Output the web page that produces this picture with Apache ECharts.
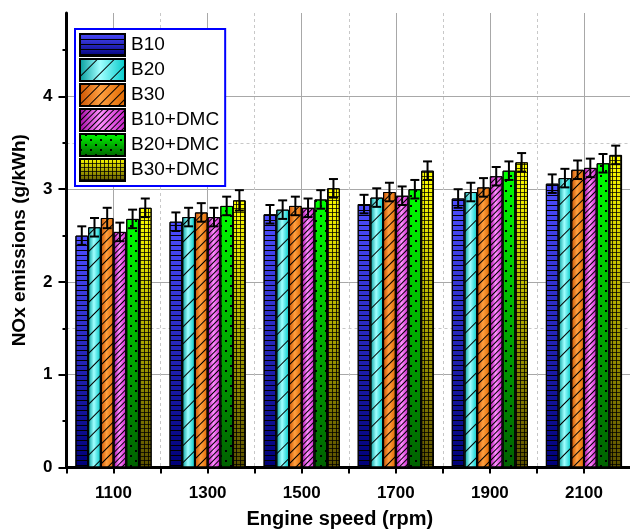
<!DOCTYPE html>
<html>
<head>
<meta charset="utf-8">
<script src="https://cdn.jsdelivr.net/npm/echarts@6/dist/echarts.min.js"></script>
<style>
  html, body { margin: 0; padding: 0; background: #fff; }
  #chart { width: 630px; height: 530px; }
</style>
</head>
<body>
<div id="chart"></div>
<script>
// engine speeds (rpm)
const speeds = [1100, 1300, 1500, 1700, 1900, 2100];
const xTickLabels = ["1100", "1300", "1500", "1700", "1900", "2100"];
const yTickValues = [0, 1, 2, 3, 4];

// NOx emissions (g/kWh)
const b10 = [2.50, 2.65, 2.73, 2.84, 2.90, 3.06];
const b20 = [2.59, 2.70, 2.78, 2.91, 2.97, 3.12];
const b30 = [2.69, 2.75, 2.82, 2.97, 3.02, 3.21];
const b10dmc = [2.54, 2.70, 2.80, 2.93, 3.14, 3.23];
const b20dmc = [2.68, 2.82, 2.89, 3.00, 3.20, 3.28];
const b30dmc = [2.80, 2.88, 3.01, 3.20, 3.29, 3.37];

// error bars (+/-)
const errB10 = [0.10, 0.10, 0.10, 0.10, 0.10, 0.10];
const errB20 = [0.10, 0.10, 0.10, 0.10, 0.10, 0.10];
const errB30 = [0.11, 0.10, 0.10, 0.10, 0.10, 0.10];
const errB10dmc = [0.10, 0.10, 0.10, 0.10, 0.10, 0.10];
const errB20dmc = [0.10, 0.10, 0.10, 0.10, 0.10, 0.10];
const errB30dmc = [0.10, 0.11, 0.10, 0.10, 0.10, 0.10];

const names = ["B10", "B20", "B30", "B10+DMC", "B20+DMC", "B30+DMC"];
const values = [b10, b20, b30, b10dmc, b20dmc, b30dmc];
const errors = [errB10, errB20, errB30, errB10dmc, errB20dmc, errB30dmc];

const BAR_W = 12.7;
const FONT = "Liberation Sans, Arial, sans-serif";

function vgrad(top, bottom) {
  return { type: "linear", x: 0, y: 0, x2: 0, y2: 1,
    colorStops: [{ offset: 0, color: top }, { offset: 1, color: bottom }] };
}
function hgrad(left, mid, right) {
  return { type: "linear", x: 0, y: 0, x2: 1, y2: 0,
    colorStops: [{ offset: 0, color: left }, { offset: 0.45, color: mid }, { offset: 1, color: right }] };
}

const fills = [
  vgrad("#4d4dff", "#000078"),
  hgrad("#009a9a", "#a0ffff", "#00c8c8"),
  hgrad("#c85000", "#ffa040", "#e06800"),
  hgrad("#a000a0", "#ff90ff", "#c820c8"),
  vgrad("#00ff00", "#006000"),
  vgrad("#ffff00", "#5a5000")
];

const decals = [
  // horizontal lines
  { symbol: "rect", symbolSize: 1, color: "#000", dashArrayX: [[10, 0]], dashArrayY: [1, 4] },
  // sparse diagonal
  { symbol: "rect", symbolSize: 1, color: "#000", dashArrayX: [[10, 0]], dashArrayY: [1, 11], rotation: -Math.PI / 4 },
  // diagonal
  { symbol: "rect", symbolSize: 1, color: "#000", dashArrayX: [[10, 0]], dashArrayY: [1, 6], rotation: -Math.PI / 4 },
  // dense diagonal
  { symbol: "rect", symbolSize: 1, color: "#000", dashArrayX: [[10, 0]], dashArrayY: [1, 3], rotation: -Math.PI / 4 },
  // dots
  { symbol: "rect", symbolSize: 1, color: "#000", dashArrayX: [[2, 8], [0, 5, 2, 3]], dashArrayY: [2, 3] },
  // grid
  { symbol: "path://M0 0H5V1H1V5H0Z", symbolSize: 1, symbolKeepAspect: false, color: "#000", dashArrayX: [[4, 0]], dashArrayY: [4, 0] }
];

const barSeries = names.map(function (name, i) {
  return {
    name: name,
    type: "bar",
    xAxisIndex: 0,
    yAxisIndex: 0,
    barWidth: BAR_W,
    barGap: "0%",
    data: speeds.map(function (s, k) { return [s, values[i][k]]; }),
    itemStyle: {
      color: fills[i],
      borderColor: "#000",
      borderWidth: 1,
      decal: decals[i]
    },
    emphasis: { disabled: true },
    z: 2
  };
});

const errData = [];
names.forEach(function (n, i) {
  speeds.forEach(function (s, k) {
    errData.push([s, values[i][k], errors[i][k], i]);
  });
});

const errSeries = {
  type: "custom",
  name: "err",
  xAxisIndex: 0,
  yAxisIndex: 0,
  data: errData,
  z: 5,
  silent: true,
  renderItem: function (params, api) {
    const x = api.value(0), v = api.value(1), e = api.value(2), idx = api.value(3);
    const hi = api.coord([x, v + e]);
    const lo = api.coord([x, v - e]);
    const cx = hi[0] + (idx - 2.5) * BAR_W;
    const hw = 4.5;
    const st = { stroke: "#000", lineWidth: 2 };
    return {
      type: "group",
      children: [
        { type: "line", shape: { x1: cx, y1: hi[1], x2: cx, y2: lo[1] }, style: st },
        { type: "line", shape: { x1: cx - hw, y1: hi[1], x2: cx + hw, y2: hi[1] }, style: st },
        { type: "line", shape: { x1: cx - hw, y1: lo[1], x2: cx + hw, y2: lo[1] }, style: st }
      ]
    };
  }
};

const chart = echarts.init(document.getElementById("chart"), null, { renderer: "canvas" });

const option = {
  animation: false,
  backgroundColor: "#fff",
  grid: { left: 66.5, right: -1, top: 13, bottom: 62.5, containLabel: false, outerBoundsMode: "none" },
  legend: {
    data: names,
    orient: "vertical",
    left: 75,
    top: 29,
    itemWidth: 45,
    itemHeight: 22,
    itemGap: 1,
    icon: "rect",
    backgroundColor: "#fff",
    borderColor: "#0000ff",
    borderWidth: 2,
    padding: [4, 6, 4, 4],
    selectedMode: false,
    textStyle: { fontFamily: FONT, fontSize: 19, lineHeight: 22, color: "#000", padding: [0, 0, 0, 1] }
  },
  xAxis: [
    {
      type: "value",
      min: 1000,
      max: 2200,
      interval: 100,
      position: "bottom",
      name: "Engine speed (rpm)",
      nameLocation: "middle",
      nameGap: 42,
      nameTextStyle: { fontFamily: FONT, fontSize: 20, fontWeight: "bold", color: "#000", padding: [0, 18, 0, 0] },
      axisLine: { show: true, lineStyle: { color: "#000", width: 3 } },
      axisTick: { show: true, inside: false, length: 6, lineStyle: { color: "#000", width: 2 } },
      axisLabel: {
        margin: 17,
        fontFamily: FONT, fontSize: 17, fontWeight: "bold", color: "#000",
        formatter: function (v) {
          const k = speeds.indexOf(v);
          return k >= 0 ? xTickLabels[k] : "";
        }
      },
      splitLine: { show: true, lineStyle: { color: ["rgba(0,0,0,0)", "#a8a8a8"], width: 1 } }
    },
    {
      type: "value",
      min: 1000,
      max: 2200,
      interval: 200,
      position: "top",
      axisLine: { show: true, lineStyle: { color: "#000", width: 3 } },
      axisTick: { show: false },
      axisLabel: { show: false },
      splitLine: { show: true, lineStyle: { color: "#c8c8c8", type: [3, 3], width: 1 } }
    }
  ],
  yAxis: [
    {
      type: "value",
      min: 0,
      max: 4.9,
      interval: 1,
      position: "left",
      name: "NOx emissions (g/kWh)",
      nameLocation: "middle",
      nameGap: 37,
      nameTextStyle: { fontFamily: FONT, fontSize: 19, fontWeight: "bold", color: "#000" },
      axisLine: { show: true, lineStyle: { color: "#000", width: 3 } },
      axisTick: { show: true, inside: false, length: 8, customValues: yTickValues, lineStyle: { color: "#000", width: 2 } },
      axisLabel: {
        margin: 14, customValues: yTickValues,
        fontFamily: FONT, fontSize: 17, fontWeight: "bold", color: "#000"
      },
      splitLine: { show: true, lineStyle: { color: "#a8a8a8", width: 1 } }
    },
    {
      type: "value",
      min: 0,
      max: 4.9,
      interval: 0.5,
      position: "left",
      axisLine: { show: false },
      axisTick: { show: true, inside: false, length: 4, customValues: [0.5, 1.5, 2.5, 3.5, 4.5], lineStyle: { color: "#000", width: 2 } },
      axisLabel: { show: false },
      splitLine: { show: true, lineStyle: { color: ["rgba(0,0,0,0)", "#c8c8c8"], type: [3, 3], width: 1 } }
    }
  ],
  series: barSeries.concat([errSeries])
};

chart.setOption(option);
</script>
</body>
</html>
